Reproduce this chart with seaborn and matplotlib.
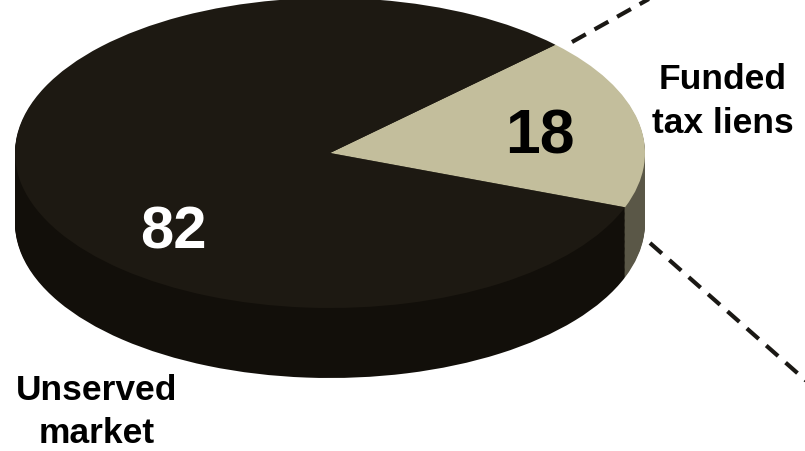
import numpy as np
import matplotlib
matplotlib.use("Agg")
import matplotlib.pyplot as plt
from matplotlib.lines import Line2D
import seaborn as sns

# ---- data ----
categories = ["Funded\ntax liens", "Unserved\nmarket"]
values = [18, 82]
value_labels = ["18", "82"]

sns.set_theme(style="white")
plt.rcParams['font.family'] = ['Liberation Sans', 'DejaVu Sans']

W, H = 805, 451
fig = plt.figure(figsize=(W / 100, H / 100), dpi=100)
fig.patch.set_facecolor("white")
ax = fig.add_axes([0, 0, 1, 1])

top_colors = ["#c3be9c", "#1d1912"]
side_colors = ["#5a5747", "#120f0a"]

# geometry (pixels)
cx_px, cy_px = 330, 153
rx_px, ry_px = 315, 155
depth_px = 70
start = -20.5

n_layers = 60
depth = depth_px / ry_px
for k in range(n_layers, 0, -1):
    off = depth * k / n_layers
    ax.pie(values, colors=side_colors, startangle=start, center=(0, -off),
           radius=1, wedgeprops=dict(linewidth=0))
ax.pie(values, colors=top_colors, startangle=start, center=(0, 0),
       radius=1, wedgeprops=dict(linewidth=0))

ax.set_aspect('auto')
ax.set_xlim(-cx_px / rx_px, (W - cx_px) / rx_px)
ax.set_ylim(-(H - cy_px) / ry_px, cy_px / ry_px)
ax.axis('off')


def fx(x):
    return x / W


def fy(y):
    return 1 - y / H


# value labels
fig.text(fx(540), fy(153), value_labels[0], color="black", fontsize=45,
         fontweight="bold", ha="center", va="baseline")
fig.text(fx(173), fy(248), value_labels[1], color="white", fontsize=43,
         fontweight="bold", ha="center", va="baseline")

# category labels
for i, line in enumerate(categories[0].split("\n")):
    fig.text(fx(723), fy(89 + 44 * i), line, color="black", fontsize=25.5,
             fontweight="bold", ha="center", va="baseline")
for i, line in enumerate(categories[1].split("\n")):
    fig.text(fx(97), fy(400 + 43 * i), line, color="black", fontsize=25.5,
             fontweight="bold", ha="center", va="baseline")

# dashed connector lines
for (x0, y0, x1, y1) in [(572, 42, 690, -24), (650, 243, 820, 393)]:
    ln = Line2D([fx(x0), fx(x1)], [fy(y0), fy(y1)], transform=fig.transFigure,
                color="#1a1814", linewidth=3, dashes=(3.8, 2.4),
                solid_capstyle="butt", dash_capstyle="butt")
    fig.add_artist(ln)

fig.savefig("out.png", dpi=100, facecolor="white")
